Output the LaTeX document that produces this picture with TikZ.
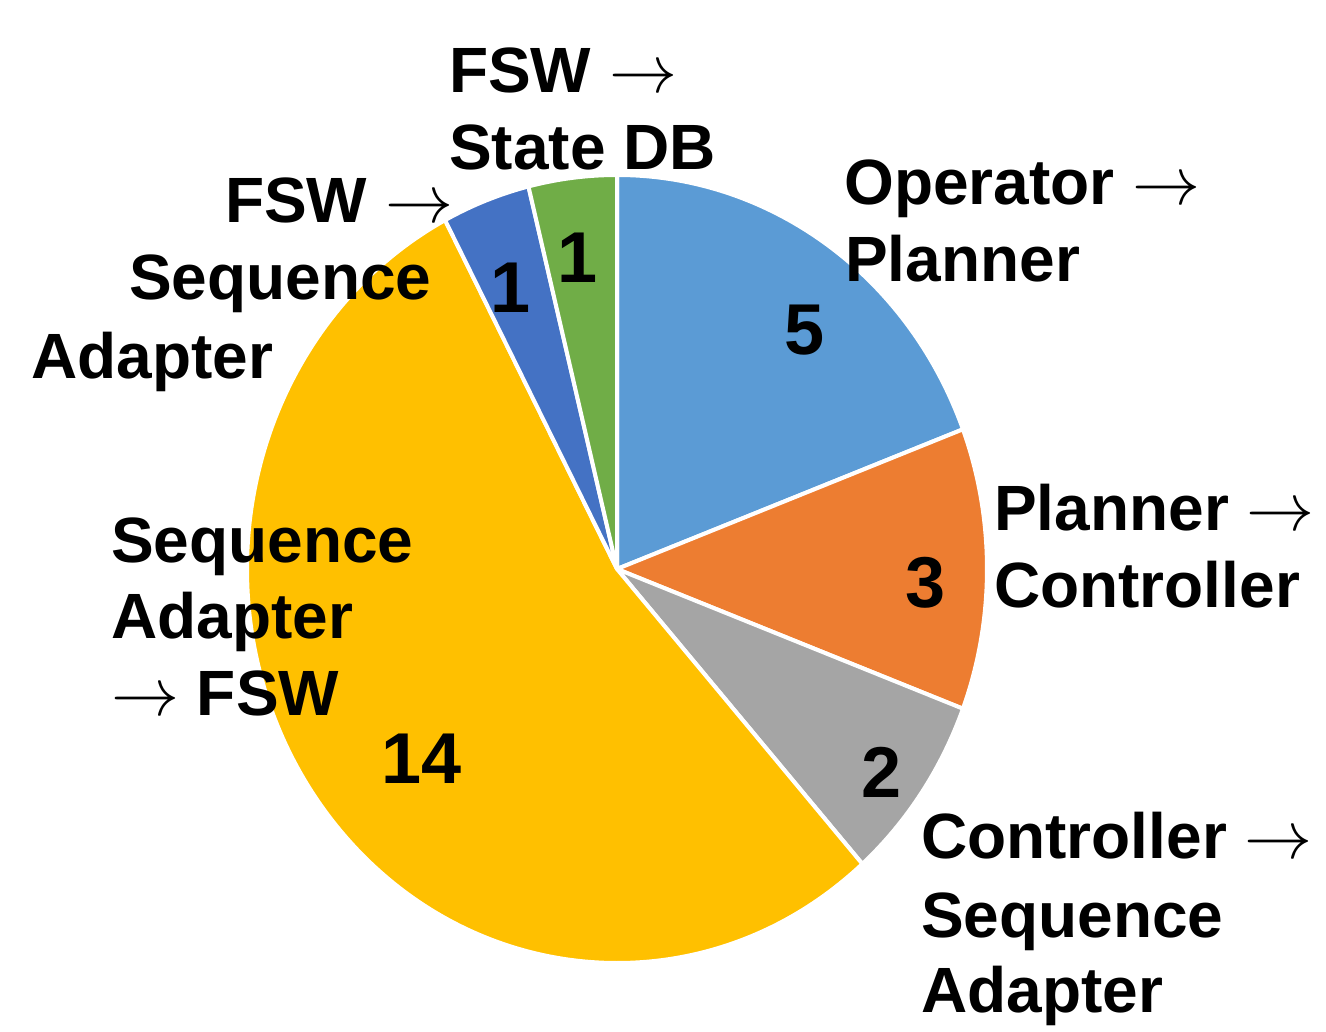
\documentclass[tikz,border=0pt]{standalone}
\usepackage{fix-cm}
\usepackage{fontspec}
\setmainfont{Liberation Sans}
\definecolor{sliceblue}{HTML}{5B9BD5}
\definecolor{sliceorange}{HTML}{ED7D31}
\definecolor{slicegray}{HTML}{A5A5A5}
\definecolor{sliceyellow}{HTML}{FFC000}
\definecolor{slicedarkblue}{HTML}{4472C4}
\definecolor{slicegreen}{HTML}{70AD47}
\newcommand{\arr}{{\fontsize{68}{77}\selectfont$\rightarrow$}}
\tikzset{
  slice/.style={draw=white, line width=4pt, line join=round},
  lbl/.style={anchor=base west, inner sep=0pt, font=\fontsize{64}{77}\selectfont\bfseries},
  num/.style={anchor=base, inner sep=0pt, font=\fontsize{72}{86}\selectfont\bfseries},
}
\begin{document}
\begin{tikzpicture}[x=1pt, y=-1pt]
\useasboundingbox (0,0) rectangle (1326,1032);
\fill[white] (0,0) rectangle (1326,1032);

% pie: 26 items in total, one item = 360/26 degrees, clockwise from the top
\begin{scope}[shift={(617,569)}, yscale=-1.0649]
  \def\R{370}
  \filldraw[slice, fill=sliceblue]     (0,0) -- (90:\R)       arc[start angle=90,      end angle=20.769,   radius=\R] -- cycle;
  \filldraw[slice, fill=sliceorange]   (0,0) -- (20.769:\R)   arc[start angle=20.769,  end angle=-20.769,  radius=\R] -- cycle;
  \filldraw[slice, fill=slicegray]     (0,0) -- (-20.769:\R)  arc[start angle=-20.769, end angle=-48.462,  radius=\R] -- cycle;
  \filldraw[slice, fill=sliceyellow]   (0,0) -- (-48.462:\R)  arc[start angle=-48.462, end angle=-242.308, radius=\R] -- cycle;
  \filldraw[slice, fill=slicedarkblue] (0,0) -- (117.692:\R)  arc[start angle=117.692, end angle=103.846,  radius=\R] -- cycle;
  \filldraw[slice, fill=slicegreen]    (0,0) -- (103.846:\R)  arc[start angle=103.846, end angle=90,       radius=\R] -- cycle;
\end{scope}

% slice values
\node[num] (n5)  at (805,355) {5};
\node[num] (n3)  at (926,607) {3};
\node[num] (n2)  at (882,797) {2};
\node[num] (n14) at (422,783) {14};
\node[num] (n1a) at (511,313) {1};
\node[num] (n1b) at (578,283) {1};

% category labels
\node[lbl] (sdbA) at (449,93)  {FSW \arr};
\node[lbl] (sdbB) at (449,170) {State DB};

\node[lbl] (fsaA) at (225,223) {FSW \arr};
\node[lbl] (fsaB) at (129,300) {Sequence};
\node[lbl] (fsaC) at (31,378)  {Adapter};

\node[lbl] (opA) at (844,205) {Operator \arr};
\node[lbl] (opB) at (845,282) {Planner};

\node[lbl] (plA) at (994,530) {Planner \arr};
\node[lbl] (plB) at (994,607) {Controller};

\node[lbl] (ctA) at (921,858)  {Controller \arr};
\node[lbl] (ctB) at (921,937)  {Sequence};
\node[lbl] (ctC) at (921,1012) {Adapter};

\node[lbl] (saA) at (111,562) {Sequence};
\node[lbl] (saB) at (111,638) {Adapter};
\node[lbl] (saC) at (111,715) {\arr{} FSW};
\end{tikzpicture}
\end{document}
